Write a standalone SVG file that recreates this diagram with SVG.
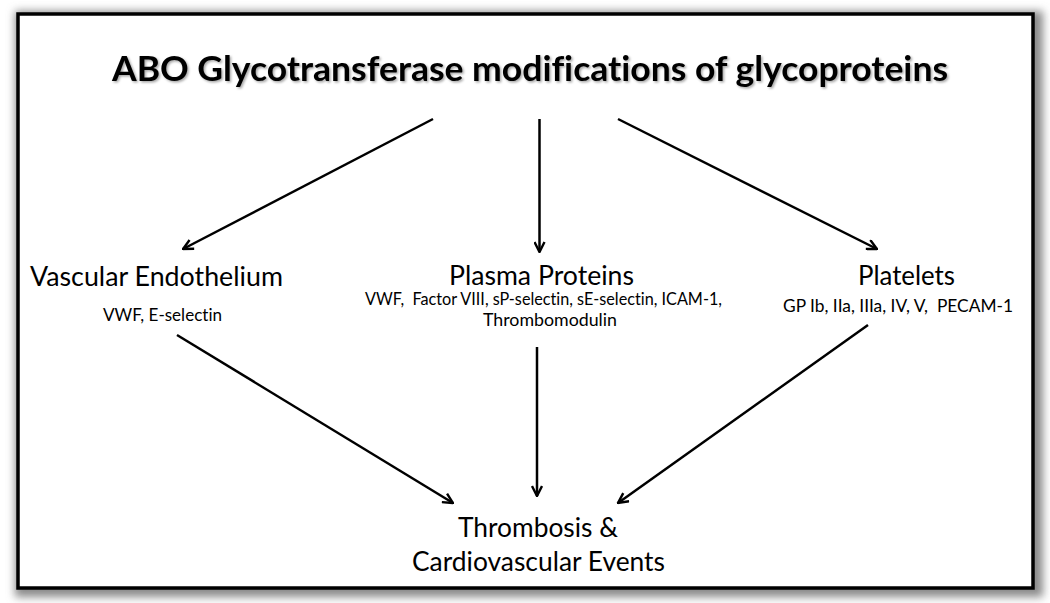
<svg xmlns="http://www.w3.org/2000/svg" width="1050" height="603" viewBox="0 0 1050 603">
<style>
  .t { font-family: Lato, "Open Sans", "Liberation Sans", sans-serif; fill: #000; font-variant-ligatures: none; font-feature-settings: "liga" 0, "clig" 0; white-space: pre; }
  .big { font-size: 27px; }
  .small { font-size: 17.5px; }
  .title { font-size: 35px; font-weight: bold; }
  .conn line { stroke: #000; stroke-width: 2.5; fill: none; marker-end: url(#arr); }
</style>
<defs>
  <marker id="arr" viewBox="0 0 12 12" refX="11" refY="6" markerWidth="12" markerHeight="12" markerUnits="userSpaceOnUse" orient="auto">
    <path d="M1,1 L11,6 L1,11" fill="none" stroke="#000" stroke-width="2.4"/>
  </marker>
  <filter id="sh" x="-5%" y="-5%" width="110%" height="115%">
    <feGaussianBlur stdDeviation="4"/>
  </filter>
  <filter id="tsh" x="-5%" y="-20%" width="110%" height="150%">
    <feDropShadow dx="1.5" dy="1.5" stdDeviation="1" flood-color="#000" flood-opacity="0.35"/>
  </filter>
</defs>
<rect width="1050" height="603" fill="#fff"/>
<g id="frame">
  <rect x="15" y="11" width="1028" height="586" fill="#8a8a8a" filter="url(#sh)"/>
  <rect x="18" y="14" width="1015" height="574" fill="#fff" stroke="#000" stroke-width="3.5"/>
</g>
<g id="title">
  <text class="t title" x="530" y="81" text-anchor="middle" textLength="836" lengthAdjust="spacingAndGlyphs" filter="url(#tsh)">ABO Glycotransferase modifications of glycoproteins</text>
</g>
<g id="vascular">
  <text class="t big" x="30" y="286" textLength="253" lengthAdjust="spacingAndGlyphs">Vascular Endothelium</text>
  <text class="t small" x="103" y="321" textLength="119" lengthAdjust="spacingAndGlyphs">VWF, E-selectin</text>
</g>
<g id="plasma">
  <text class="t big" x="449" y="285" textLength="185" lengthAdjust="spacingAndGlyphs">Plasma Proteins</text>
  <text class="t small" x="365" y="305" textLength="357" lengthAdjust="spacingAndGlyphs" xml:space="preserve">VWF,  Factor VIII, sP-selectin, sE-selectin, ICAM-1,</text>
  <text class="t small" x="483" y="326" textLength="134" lengthAdjust="spacingAndGlyphs">Thrombomodulin</text>
</g>
<g id="platelets">
  <text class="t big" x="858" y="285" textLength="97" lengthAdjust="spacingAndGlyphs">Platelets</text>
  <text class="t small" x="783" y="312" textLength="230" lengthAdjust="spacingAndGlyphs" xml:space="preserve">GP Ib, IIa, IIIa, IV, V,  PECAM-1</text>
</g>
<g id="outcome">
  <text class="t big" x="458" y="537" textLength="160" lengthAdjust="spacingAndGlyphs">Thrombosis &amp;</text>
  <text class="t big" x="412" y="571" textLength="253" lengthAdjust="spacingAndGlyphs">Cardiovascular Events</text>
</g>
<g id="connectors" class="conn">
  <line x1="433" y1="119" x2="183" y2="249"/>
  <line x1="539.5" y1="119" x2="539.5" y2="252"/>
  <line x1="618" y1="119" x2="877" y2="249"/>
  <line x1="177" y1="335" x2="453" y2="503"/>
  <line x1="537" y1="347" x2="537" y2="496"/>
  <line x1="868" y1="325" x2="618" y2="503"/>
</g>
</svg>
